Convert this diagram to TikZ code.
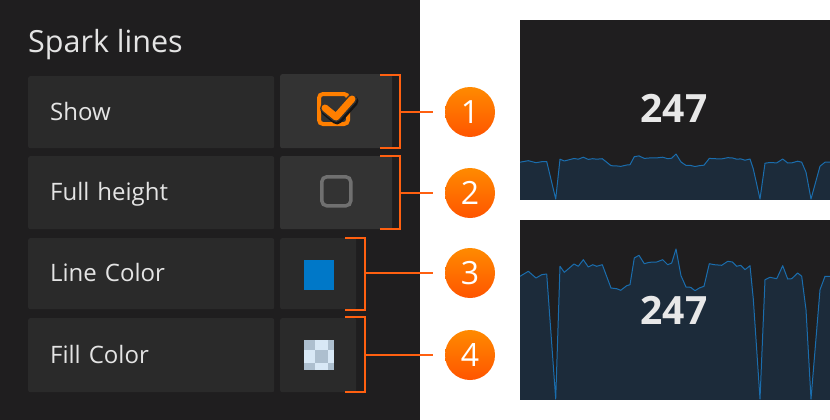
\documentclass[tikz,border=0pt]{standalone}
\usepackage{fontspec}
\usepackage{pdfrender}
\setmainfont{Open Sans}
\definecolor{panelbg}{HTML}{1F1E1F}
\definecolor{labelbg}{HTML}{2A2A2A}
\definecolor{valbg}{HTML}{333333}
\definecolor{txt}{HTML}{E4E4E4}
\definecolor{brk}{HTML}{FF6010}
\definecolor{circtop}{HTML}{FF8A00}
\definecolor{circbot}{HTML}{FF5500}
\definecolor{chk}{HTML}{FF7F00}
\definecolor{chkgray}{HTML}{707070}
\definecolor{chartbg}{HTML}{1F1E1F}
\definecolor{sparkfillc}{HTML}{1C2B3A}
\definecolor{sparkline}{HTML}{1A6DAD}
\definecolor{lineblue}{HTML}{0078C8}
\definecolor{chkdark}{HTML}{ADBFCF}
\definecolor{chklight}{HTML}{D8E8F6}
\definecolor{numol}{HTML}{151A20}
\definecolor{numtxt}{HTML}{E8E8E8}
\newcommand\otext[1]{\textpdfrender{TextRenderingMode=FillStroke,LineWidth=1.2pt,StrokeColor=numol,FillColor=numtxt}{#1}}
\def\sparkpts{(505,122.7) -- (520,122.7) -- (528.3,127.7) -- (536,121) -- (541.7,124.3) -- (546.7,125) -- (555.7,0) -- (560,132.7) -- (564.3,126.7) -- (574,135) -- (578.3,132.7) -- (583.3,139.3) -- (588.3,132) -- (592.7,134.3) -- (596.7,132.7) -- (602.3,134.3) -- (611,111) -- (616.7,110.3) -- (620.7,108.7) -- (626.7,113.3) -- (630,114.3) -- (634.3,141) -- (639,143.7) -- (644.3,135.3) -- (649.3,136.7) -- (656.7,137) -- (662.7,139.3) -- (667.7,134.3) -- (671.7,136) -- (676,150) -- (681,123.3) -- (686,112) -- (690.7,111.7) -- (695,108.3) -- (699.3,111) -- (704,112.7) -- (709.3,135.3) -- (714.3,134.3) -- (721.7,133.7) -- (727.7,137.7) -- (732.3,137) -- (736.7,132.7) -- (740.7,133.7) -- (745,129.3) -- (750,133.3) -- (753.3,100) -- (760,0) -- (765,119.3) -- (770,121.7) -- (776.7,120.3) -- (782.7,133.3) -- (787.7,120) -- (791.7,120.3) -- (797.7,126) -- (801.7,122.7) -- (806,89.3) -- (811,0) -- (820,109.3) -- (825,122.7) -- (830,122.7) -- (845,122.7)}
\begin{document}
\begin{tikzpicture}[x=1pt,y=-1pt,
  labelbox/.style={fill=labelbg, rounded corners=2pt, anchor=north west, minimum width=246pt,
    text width=202pt, inner xsep=22pt, inner ysep=0pt, align=left, text=txt,
    font=\fontsize{24}{28}\selectfont, text height=20pt, text depth=4pt},
  valbox/.style={fill=#1, rounded corners=2pt, anchor=north west, inner sep=0pt},
  bracket/.style={draw=brk, line width=2pt},
  numcirc/.style={circle, minimum size=50pt, inner sep=0pt, top color=circtop, bottom color=circbot,
    draw=none, text=white, font=\fontsize{32}{34}\selectfont},
  bignum/.style={text=numtxt, font=\fontsize{39}{42}\selectfont\bfseries, inner sep=0pt},
  sparkarea/.style={fill=sparkfillc, draw=sparkline, line width=1pt, line join=round}]
\useasboundingbox (0,0) rectangle (830,420);
\fill[white] (0,0) rectangle (830,420);
\fill[panelbg] (0,0) rectangle (420,420);

\node[anchor=base west, text=txt, font=\fontsize{30.5}{34}\selectfont, inner sep=0pt] (title) at (28,53) {Spark lines};

% rows
\node[labelbox, minimum height=72pt] (l1) at (28,76) {Show};
\node[valbox=valbg, minimum width=112pt, minimum height=74pt] (v1) at (280,74) {};
\node[labelbox, minimum height=73pt] (l2) at (28,156) {Full height};
\node[valbox=valbg, minimum width=112pt, minimum height=73pt] (v2) at (280,156) {};
\node[labelbox, minimum height=71pt] (l3) at (28,238) {Line Color};
\node[valbox=labelbg, minimum width=76pt, minimum height=71pt] (v3) at (280,238) {};
\node[labelbox, minimum height=74pt] (l4) at (28,318) {Fill Color};
\node[valbox=labelbg, minimum width=76pt, minimum height=74pt] (v4) at (280,318) {};

% checked box
\draw[chk, line width=4pt, rounded corners=4pt] (319,94) rectangle (348,124);
\draw[black!60!valbg, line width=11pt, line cap=round, line join=round] (326,110) -- (337,119) -- (353,101);
\draw[valbg, line width=10pt, line cap=round, line join=round] (325,108) -- (336,117) -- (352,99);
\draw[chk, line width=7pt, line cap=round, line join=round] (325,108) -- (336,117) -- (352,99);
% empty box
\draw[chkgray, line width=3.5pt, rounded corners=5pt] (321.8,176.8) rectangle (350.8,205.8);
% line color swatch
\fill[lineblue] (304,260) rectangle (334,290);
% fill color swatch (checker)
\fill[chklight] (304,340) rectangle (334,370);
\fill[chkdark] (304,340) rectangle (315,350);
\fill[chkdark] (328.3,340) rectangle (334,350);
\fill[chkdark] (315,350) rectangle (328.3,363.3);
\fill[chkdark] (304,363.3) rectangle (315,370);
\fill[chkdark] (328.3,363.3) rectangle (334,370);

% brackets and numbered circles
\node[numcirc] (c1) at (470,112) {1};
\node[numcirc] (c2) at (470,193) {2};
\node[numcirc] (c3) at (470,273) {3};
\node[numcirc] (c4) at (470,355) {4};
\coordinate (b1) at (400,112);
\coordinate (b2) at (400,193);
\coordinate (b3) at (365,273);
\coordinate (b4) at (365,355);
\draw[bracket] (380,75) -- (400,75) -- (400,148) -- (380,148);
\draw[bracket] (380,156) -- (400,156) -- (400,229) -- (380,229);
\draw[bracket] (345,238) -- (365,238) -- (365,310) -- (345,310);
\draw[bracket] (345,317) -- (365,317) -- (365,392) -- (345,392);
\draw[bracket, shorten >=12pt] (b1) -- (c1);
\draw[bracket, shorten >=12pt] (b2) -- (c2);
\draw[bracket, shorten >=12pt] (b3) -- (c3);
\draw[bracket, shorten >=12pt] (b4) -- (c4);

% chart 1
\begin{scope}
  \clip (520,20) rectangle (830,199);
  \fill[chartbg] (520,20) rectangle (830,199);
  \filldraw[sparkarea, shift={(0,199)}, yscale=-0.3] (845,-20) -- (505,-20) -- \sparkpts -- cycle;
\end{scope}
\node[bignum] (n1) at (674,108) {\otext{247}};

% chart 2
\begin{scope}
  \clip (520,220) rectangle (830,399);
  \fill[chartbg] (520,220) rectangle (830,399);
  \filldraw[sparkarea, shift={(0,399)}, yscale=-1] (845,-20) -- (505,-20) -- \sparkpts -- cycle;
\end{scope}
\node[bignum] (n2) at (674,310) {\otext{247}};
\end{tikzpicture}
\end{document}
